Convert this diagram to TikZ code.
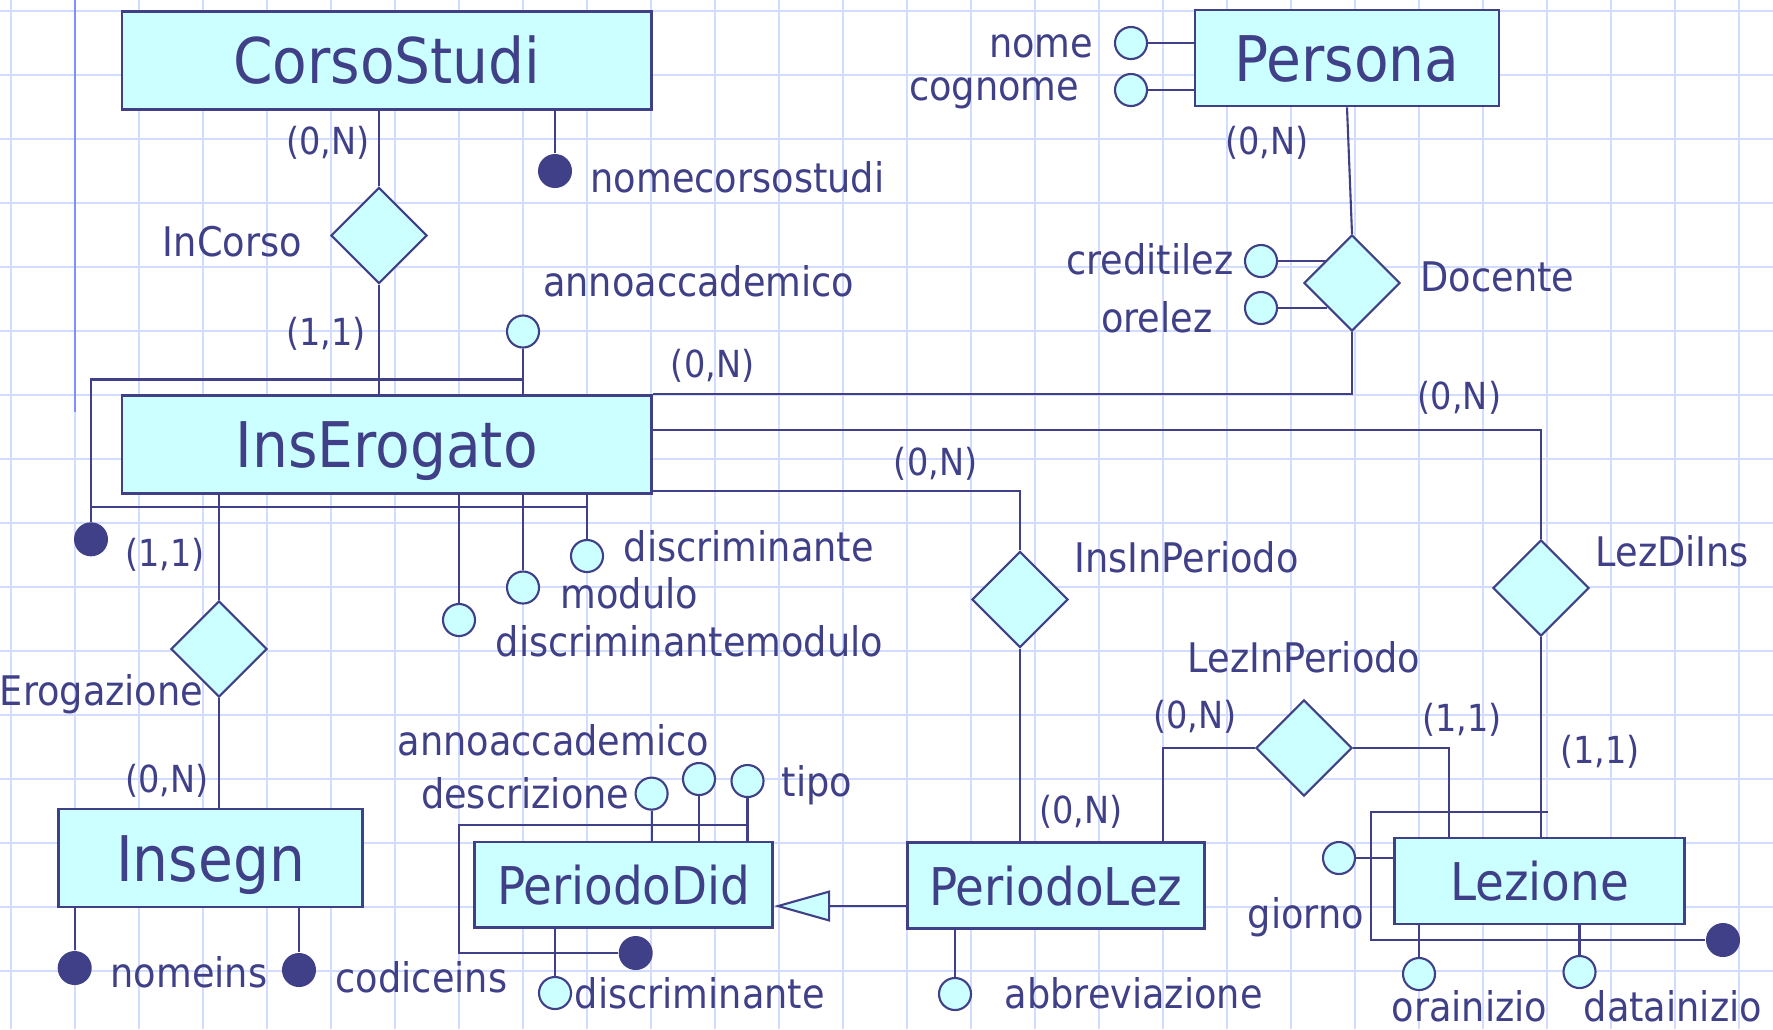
\documentclass[tikz,border=0pt]{standalone}
\usepackage{fontspec}
\setmainfont{DejaVu Sans Condensed}
\usetikzlibrary{shapes.geometric,arrows.meta}
\definecolor{erblue}{RGB}{64,64,136}
\definecolor{ercyan}{RGB}{204,255,255}
\definecolor{gridblue}{RGB}{210,220,255}
\definecolor{marginblue}{RGB}{128,142,255}

\begin{document}
\begin{tikzpicture}[
  x=0.01cm, y=-0.01cm,
  gridline/.style={draw=gridblue, line width=0.65pt},
  marginline/.style={draw=marginblue, line width=0.65pt},
  link/.style={draw=erblue, line width=0.6pt},
  entity/.style={rectangle, draw=erblue, fill=ercyan, line width=0.75pt, text=erblue, inner sep=0pt, font=\fontsize{17.9}{21}\selectfont, text height=0.47cm, text depth=0pt},
  smallentity/.style={entity, font=\fontsize{14.8}{17}\selectfont, text height=0.39cm},
  relation/.style={diamond, draw=erblue, fill=ercyan, line width=0.6pt, inner sep=0pt, minimum width=0.96cm, minimum height=0.96cm},
  attr/.style={circle, draw=erblue, fill=ercyan, line width=0.6pt, inner sep=0pt, minimum size=0.32cm},
  keyattr/.style={circle, fill=erblue, inner sep=0pt, minimum size=0.34cm},
  lbl/.style={text=erblue, inner sep=0pt, font=\fontsize{11.6}{14}\selectfont},
  card/.style={text=erblue, inner sep=0pt, font=\fontsize{10.6}{12}\selectfont}
]

% Paper
\useasboundingbox (0,0) rectangle (1773,1029);
\fill[white] (0,0) rectangle (1773,1029);
\foreach \gx in {0,...,27} \draw[gridline] (11+64*\gx,0) -- (11+64*\gx,1029);
\foreach \gy in {0,...,15} \draw[gridline] (0,11+64*\gy) -- (1773,11+64*\gy);
\draw[marginline] (75,0) -- (75,412);

% Entities
\node[entity, minimum width=5.29cm, minimum height=0.98cm] (corsostudi) at (386.8,60.3) {CorsoStudi};
\node[entity, minimum width=3.04cm, minimum height=0.96cm] (persona) at (1347,58) {Persona};
\node[entity, minimum width=5.29cm, minimum height=0.98cm] (inserogato) at (386.8,444.4) {InsErogato};
\node[entity, minimum width=3.04cm, minimum height=0.98cm] (insegn) at (210.6,858) {Insegn};
\node[smallentity, minimum width=2.98cm, minimum height=0.855cm] (periododid) at (623.7,884.8) {PeriodoDid};
\node[smallentity, minimum width=2.97cm, minimum height=0.86cm] (periodolez) at (1056,885.5) {PeriodoLez};
\node[smallentity, minimum width=2.90cm, minimum height=0.86cm] (lezione) at (1539.5,881) {Lezione};

% Relationships
\node[relation] (incorso) at (379,235.5) {};
\node[relation] (docente) at (1352,283) {};
\node[relation] (erogazione) at (219,649) {};
\node[relation] (insinperiodo) at (1020,599.5) {};
\node[relation] (lezdiins) at (1541,588) {};
\node[relation] (lezinperiodo) at (1304,748) {};

% Attributes
\node[attr] (nome) at (1131,43) {};
\node[attr] (cognome) at (1131,90) {};
\node[attr] (creditilez) at (1261,261) {};
\node[attr] (orelez) at (1261,308) {};
\node[attr] (annoie) at (523,331.5) {};
\node[attr] (discrie) at (587,556) {};
\node[attr] (moduloie) at (523,587.5) {};
\node[attr] (discrmodie) at (459,620) {};
\node[attr] (annopd) at (699,779) {};
\node[attr] (tipopd) at (747.5,781) {};
\node[attr] (descrpd) at (651.6,793.6) {};
\node[attr] (discrpd) at (555,993) {};
\node[attr] (abbrev) at (955,994) {};
\node[attr] (giorno) at (1339,858) {};
\node[attr] (orainizio) at (1419,974) {};
\node[attr] (datainizio) at (1579.5,972) {};

% Identifiers
\node[keyattr] (nomecs) at (555,171) {};
\node[keyattr] (keyie) at (91,539.3) {};
\node[keyattr] (nomeins) at (74.7,968) {};
\node[keyattr] (codiceins) at (299,970) {};
\node[keyattr] (keypd) at (635.7,953) {};
\node[keyattr] (keylez) at (1723,940) {};
\coordinate (ieidtop) at (523,379.5);
\coordinate (ieidbot) at (587,507);
\coordinate (pdidtop) at (747.5,825);
\coordinate (pdidcorner) at (459,953);
\coordinate (lezidtop) at (1548,812);
\coordinate (lezidcorner) at (1371,940);

% Links
\draw[link] (incorso) -- (incorso |- corsostudi.south);
\draw[link] (incorso) -- (incorso |- inserogato.north);
\draw[link] (nomecs) -- (nomecs |- corsostudi.south);
\draw[link] (docente.north) -- (persona.south);
\draw[link] (nome) -- (nome -| persona.west);
\draw[link] (cognome) -- (cognome -| persona.west);
\draw[link] (creditilez) -- (creditilez -| docente.north west);
\draw[link] (orelez) -- (orelez -| docente.south west);
\draw[link] (docente.south) |- (inserogato.north east);
\draw[link] (annoie) -- (annoie |- inserogato.north);
\draw[link] (keyie) |- (ieidtop);
\draw[link] (ieidbot) -- (ieidbot -| keyie);
\draw[link] (discrie) -- (discrie |- inserogato.south);
\draw[link] (moduloie) -- (moduloie |- inserogato.south);
\draw[link] (discrmodie) -- (discrmodie |- inserogato.south);
\draw[link] (erogazione) -- (erogazione |- inserogato.south);
\draw[link] (erogazione) -- (erogazione |- insegn.north);
\draw[link] (nomeins) -- (nomeins |- insegn.south);
\draw[link] (codiceins) -- (codiceins |- insegn.south);
\draw[link] (insinperiodo.north) |- ([yshift=0.04cm]inserogato.south east);
\draw[link] (insinperiodo) -- (insinperiodo |- periodolez.north);
\draw[link] (lezdiins.north) |- ([yshift=0.144cm]inserogato.east);
\draw[link] (lezdiins) -- (lezdiins |- lezione.north);
\draw[link] (lezinperiodo.west) -| ([xshift=1.07cm]periodolez.north);
\draw[link] (lezinperiodo.east) -| ([xshift=-0.905cm]lezione.north);
\draw[link, -{Triangle[length=0.56cm, width=0.31cm, fill=ercyan]}] ([yshift=-0.205cm]periodolez.west) -- ([yshift=-0.205cm]periodolez.west -| periododid.east);
\draw[link] (annopd) -- (annopd |- periododid.north);
\draw[link] (tipopd) -- (tipopd |- periododid.north);
\draw[link] (descrpd) -- (descrpd |- periododid.north);
\draw[link] (pdidtop) -| (pdidcorner) -- (keypd);
\draw[link] (discrpd) -- (discrpd |- periododid.south);
\draw[link] (abbrev) -- (abbrev |- periodolez.south);
\draw[link] (giorno) -- (giorno -| lezione.west);
\draw[link] (lezidtop) -| (lezidcorner) -- (keylez);
\draw[link] (orainizio) -- (orainizio |- lezione.south);
\draw[link] (datainizio) -- (datainizio |- lezione.south);

% Cardinalities
\node[card, anchor=base] (card1) at (328,154) {(0,N)};
\node[card, anchor=base] (card2) at (326,345) {(1,1)};
\node[card, anchor=base] (card3) at (1267,154) {(0,N)};
\node[card, anchor=base] (card4) at (712.6,377) {(0,N)};
\node[card, anchor=base] (card5) at (1459.5,409) {(0,N)};
\node[card, anchor=base] (card6) at (935.6,475) {(0,N)};
\node[card, anchor=base] (card7) at (165,566) {(1,1)};
\node[card, anchor=base] (card8) at (167,792) {(0,N)};
\node[card, anchor=base] (card9) at (1081,823) {(0,N)};
\node[card, anchor=base] (card10) at (1194.6,728) {(0,N)};
\node[card, anchor=base] (card11) at (1462,731) {(1,1)};
\node[card, anchor=base] (card12) at (1600,763) {(1,1)};

% Labels
\node[lbl, anchor=base west] (nomecslbl) at (590,192) {nomecorsostudi};
\node[lbl, anchor=base east] (incorsolbl) at (302.5,256) {InCorso};
\node[lbl, anchor=base west] (annoielbl) at (542.5,296.7) {annoaccademico};
\node[lbl, anchor=base east] (nomelbl) at (1094,57) {nome};
\node[lbl, anchor=base east] (cognomelbl) at (1080,100) {cognome};
\node[lbl, anchor=base east] (creditilezlbl) at (1234,274) {creditilez};
\node[lbl, anchor=base east] (orelezlbl) at (1213,332) {orelez};
\node[lbl, anchor=base west] (docentelbl) at (1420,291) {Docente};
\node[lbl, anchor=base west] (discrielbl) at (623,561) {discriminante};
\node[lbl, anchor=base west] (moduloielbl) at (560,608) {modulo};
\node[lbl, anchor=base west] (discrmodielbl) at (495,656) {discriminantemodulo};
\node[lbl, anchor=base east] (erogazionelbl) at (204,705) {Erogazione};
\node[lbl, anchor=base] (annopdlbl) at (553.5,755) {annoaccademico};
\node[lbl, anchor=base east] (descrpdlbl) at (630,808) {descrizione};
\node[lbl, anchor=base west] (tipopdlbl) at (781,796) {tipo};
\node[lbl, anchor=base west] (discrpdlbl) at (574,1008) {discriminante};
\node[lbl, anchor=base west] (nomeinslbl) at (110,987) {nomeins};
\node[lbl, anchor=base west] (codiceinslbl) at (335,992) {codiceins};
\node[lbl, anchor=base west] (insinperiodolbl) at (1074,572) {InsInPeriodo};
\node[lbl, anchor=base west] (lezdiinslbl) at (1595,566) {LezDiIns};
\node[lbl, anchor=base] (lezinperiodolbl) at (1304,672) {LezInPeriodo};
\node[lbl, anchor=base west] (giornolbl) at (1247,928) {giorno};
\node[lbl, anchor=base west] (abbrevlbl) at (1004,1008) {abbreviazione};
\node[lbl, anchor=base west] (orainiziolbl) at (1391,1021) {orainizio};
\node[lbl, anchor=base west] (datainiziolbl) at (1583,1021) {datainizio};

\end{tikzpicture}
\end{document}
